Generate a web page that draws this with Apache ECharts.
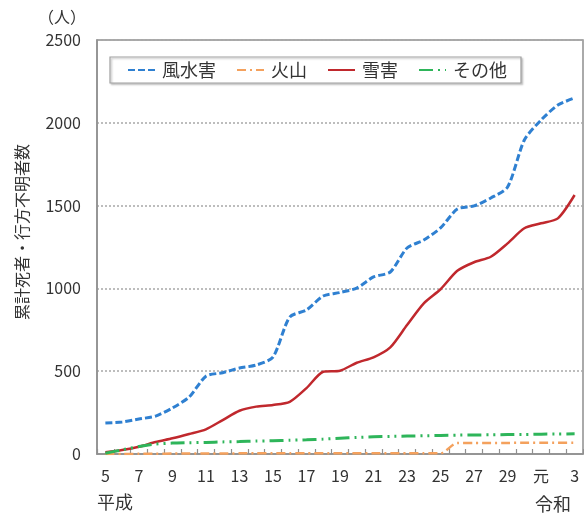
<!DOCTYPE html>
<html>
<head>
<meta charset="utf-8">
<style>
  html, body { margin: 0; padding: 0; background: #ffffff; }
  #chart { width: 584px; height: 515px; }
</style>
<script src="https://cdn.jsdelivr.net/npm/echarts@6/dist/echarts.min.js"></script>
</head>
<body>
<div id="chart"></div>
<script>
// Fiscal years: 平成5 … 平成30, 令和元, 2, 3
const years = ['5','6','7','8','9','10','11','12','13','14','15','16','17','18','19','20',
  '21','22','23','24','25','26','27','28','29','30','元','2','3'];

// Cumulative dead and missing (persons)
const windFlood = [187,193,211,229,278,344,470,491,519,537,585,827,870,954,975,1002,
  1069,1099,1244,1292,1365,1479,1498,1546,1612,1896,2017,2107,2150];
const volcano = [0,0,1,1,3,3,3,3,4,4,4,4,4,4,4,4,4,4,4,4,4,67,67,67,67,68,68,68,68];
const snow = [10,24,44,72,95,121,149,205,261,286,296,315,398,497,503,551,
  584,644,779,910,995,1106,1158,1191,1272,1363,1393,1423,1564];
const others = [5,25,45,60,66,68,70,73,75,78,80,83,86,90,95,100,
  104,106,108,110,112,114,115,116,117,118,120,121,122];

const yTicks = { min: 0, max: 2500, step: 500 };

const FONT = '"Noto Sans CJK JP", "Noto Sans", sans-serif';
const TEXT = '#333333';
const AXIS = '#8f8f8f';

const chart = echarts.init(document.getElementById('chart'), null, { renderer: 'canvas' });

function lineSeries(name, data, color, dash, width) {
  return {
    name: name,
    type: 'line',
    data: data,
    smooth: 0.25,
    symbol: 'none',
    showSymbol: false,
    lineStyle: { color: color, width: width, type: dash, cap: 'butt' },
    itemStyle: { color: color },
    emphasis: { disabled: true }
  };
}

chart.setOption({
  animation: false,
  backgroundColor: '#ffffff',
  textStyle: { fontFamily: FONT },
  grid: {
    left: 97, right: 1, top: 40, bottom: 61,
    show: true, borderColor: AXIS, borderWidth: 1.5, backgroundColor: 'transparent'
  },
  legend: {
    left: 110, top: 57,
    padding: [4, 14, 4, 17],
    itemWidth: 27, itemHeight: 14, itemGap: 20,
    borderColor: '#a0a0a0', borderWidth: 1.2,
    shadowColor: 'rgba(0,0,0,0.25)', shadowBlur: 2, shadowOffsetX: 1.5, shadowOffsetY: 1.5,
    backgroundColor: '#ffffff',
    itemStyle: { opacity: 0 },
    textStyle: { fontFamily: FONT, fontSize: 18, color: TEXT, padding: [0, 0, 0, 2] },
    data: ['風水害', '火山', '雪害', 'その他']
  },
  xAxis: {
    type: 'category',
    data: years,
    boundaryGap: true,
    axisLine: { lineStyle: { color: AXIS, width: 1.5 } },
    axisTick: { show: true, inside: true, length: 5, interval: 0, lineStyle: { color: AXIS, width: 1.2 } },
    axisLabel: { interval: 1, margin: 14, fontSize: 16, color: TEXT, fontFamily: FONT }
  },
  yAxis: {
    type: 'value',
    min: yTicks.min, max: yTicks.max, interval: yTicks.step,
    axisLine: { show: true, lineStyle: { color: AXIS, width: 1.5 } },
    axisTick: { show: false },
    axisLabel: { margin: 16, fontSize: 16, color: TEXT, fontFamily: FONT, formatter: v => String(v) },
    splitLine: { show: true, lineStyle: { color: '#a8a8a8', width: 1.5, type: [2, 2] } }
  },
  graphic: [
    { type: 'text', left: 38, top: 9, style: { text: '（人）', font: '16px ' + FONT, fill: TEXT } },
    {
      type: 'text', x: 22, y: 232, rotation: Math.PI / 2,
      style: { text: '累計死者・行方不明者数', font: '16px ' + FONT, fill: TEXT, align: 'center', verticalAlign: 'middle' }
    },
    { type: 'text', left: 97, top: 493, style: { text: '平成', font: '18px ' + FONT, fill: TEXT } },
    { type: 'text', left: 535, top: 495, style: { text: '令和', font: '18px ' + FONT, fill: TEXT } }
  ],
  series: [
    lineSeries('風水害', windFlood, '#2f80d1', [7, 3], 3),
    lineSeries('火山', volcano, '#f4a15d', [9, 4, 2, 4], 2.5),
    lineSeries('雪害', snow, '#c0282d', 'solid', 2.5),
    lineSeries('その他', others, '#2eb55a', [14, 5, 2, 5, 2, 5], 3)
  ]
});
</script>
</body>
</html>
